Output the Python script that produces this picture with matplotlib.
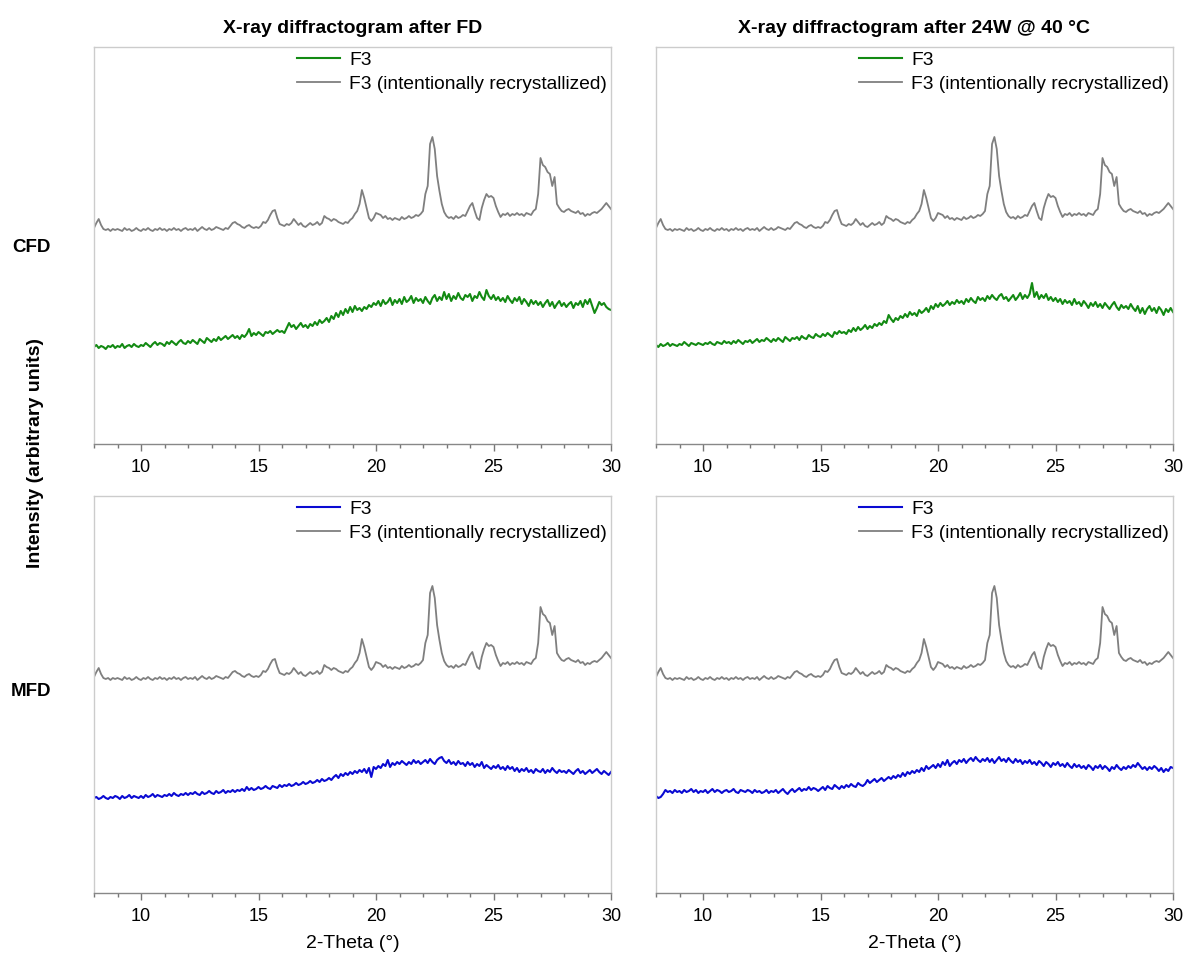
import numpy as np
import matplotlib.pyplot as plt
from matplotlib.ticker import MultipleLocator

plt.rcParams['font.family'] = ['Liberation Sans', 'DejaVu Sans']

# 2-Theta grid (degrees), one reading every 0.1 degree from 8 to 30
two_theta = np.round(np.arange(80, 301) / 10.0, 1)

# Recrystallized reference (same pattern shown in all four panels)
recryst = [
    216, 221, 225, 219, 215, 214, 215, 213, 215, 214,
    215, 214, 213, 216, 214, 215, 213, 214, 216, 214,
    213, 215, 214, 216, 214, 213, 215, 214, 216, 214,
    215, 213, 215, 214, 216, 214, 215, 213, 215, 216,
    214, 215, 214, 216, 213, 215, 217, 215, 214, 216,
    214, 215, 217, 216, 215, 214, 216, 215, 218, 221,
    222, 220, 219, 217, 216, 218, 219, 217, 216, 217,
    216, 218, 222, 221, 224, 229, 233, 234, 226, 220,
    219, 218, 220, 219, 221, 225, 222, 219, 221, 218,
    217, 219, 221, 219, 220, 222, 219, 221, 228, 226,
    225, 223, 225, 224, 222, 221, 220, 222, 221, 224,
    226, 230, 233, 240, 254, 246, 236, 226, 223, 226,
    231, 230, 229, 226, 228, 225, 226, 224, 226, 225,
    224, 227, 225, 226, 228, 226, 227, 229, 228, 230,
    233, 250, 258, 300, 307, 295, 268, 253, 240, 232,
    228, 226, 227, 225, 228, 226, 227, 229, 228, 233,
    238, 241, 233, 226, 224, 236, 244, 250, 247, 248,
    246, 238, 232, 227, 230, 229, 231, 228, 230, 229,
    231, 229, 230, 228, 231, 230, 229, 233, 235, 250,
    286, 279, 277, 272, 270, 258, 267, 240, 236, 233,
    232, 234, 235, 233, 232, 231, 233, 230, 231, 228,
    230, 229, 231, 232, 231, 233, 235, 238, 241, 238,
    235,
]

# CFD, after FD
cfd_fd = [
    97, 99, 96, 98, 97, 95, 98, 97, 99, 96,
    98, 97, 100, 96, 98, 99, 97, 100, 98, 97,
    99, 98, 101, 99, 97, 100, 102, 99, 101, 100,
    98, 102, 100, 103, 101, 99, 102, 104, 101, 100,
    103, 101, 104, 102, 100, 105, 103, 101, 106, 104,
    102, 105, 103, 107, 104, 106, 108, 105, 107, 109,
    106, 108, 105, 109, 107, 110, 115, 108, 111, 109,
    112, 110, 108, 112, 111, 113, 110, 112, 114, 112,
    113, 111, 116, 121, 117, 119, 115, 118, 121, 117,
    119, 116, 120, 118, 122, 119, 124, 121, 123, 126,
    122, 128, 125, 131, 127, 133, 129, 135, 131, 137,
    132, 138, 134, 136, 133, 137, 135, 139, 137, 141,
    139, 143, 138, 144, 140, 142, 146, 139, 144, 141,
    145, 140, 147, 142, 144, 148, 141, 146, 143, 145,
    141, 147, 143, 140, 146, 149, 143, 147, 144, 152,
    145, 150, 143, 148, 145, 151, 146, 144, 149, 147,
    150, 143, 148, 146, 152, 147, 144, 154, 148, 145,
    149, 144, 147, 143, 146, 142, 148, 144, 141, 146,
    143, 147, 140, 145, 142, 138, 144, 140, 143, 139,
    142, 137, 141, 144, 138, 142, 136, 140, 143, 138,
    141, 137, 140, 142, 136, 141, 139, 143, 137, 144,
    140, 145, 138, 131, 136, 142, 139, 141, 137, 135,
    134,
]

# CFD, after 24W @ 40 °C
cfd_24w = [
    99, 97, 100, 98, 99, 101, 98, 100, 99, 98,
    100, 99, 102, 100, 98, 101, 100, 99, 101, 100,
    99, 101, 100, 102, 100, 99, 102, 101, 100, 103,
    101, 102, 100, 103, 101, 104, 102, 100, 103, 102,
    104, 101, 103, 105, 102, 104, 103, 106, 104, 102,
    105, 103, 106, 104, 102, 107, 105, 103, 106, 105,
    107, 104, 108, 106, 105, 109, 107, 106, 110, 108,
    107, 110, 108, 111, 109, 107, 112, 110, 113, 111,
    112, 110, 114, 112, 116, 113, 117, 114, 116, 119,
    115, 118, 116, 120, 118, 121, 119, 123, 121, 129,
    125, 122, 126, 124, 128, 126, 130, 127, 132, 129,
    131, 128, 134, 131, 133, 136, 132, 138, 135, 140,
    137, 141, 138, 140, 143, 139, 142, 140, 144, 141,
    143, 140, 145, 142, 146, 143, 141, 147, 144, 146,
    143, 148, 145, 149, 146, 144, 148, 150, 145, 147,
    143, 146, 149, 144, 147, 151, 145, 149, 146, 150,
    161, 147, 152, 145, 149, 146, 150, 144, 147, 143,
    146, 142, 145, 140, 144, 141, 143, 139, 145, 140,
    142, 138, 143, 140, 136, 141, 138, 142, 137, 140,
    136, 141, 138, 135, 139, 142, 137, 134, 139, 136,
    138, 135, 140, 136, 133, 138, 131, 136, 130, 135,
    138, 133, 136, 131, 137, 134, 129, 135, 132, 136,
    132,
]

# MFD, after FD
mfd_fd = [
    95, 96, 94, 95, 97, 95, 94, 96, 95, 97,
    96, 94, 97, 95, 96, 98, 95, 97, 96, 95,
    97, 95, 98, 96, 97, 99, 96, 98, 97, 96,
    98, 97, 99, 97, 100, 98, 97, 99, 98, 100,
    98, 100, 99, 101, 99, 98, 101, 99, 100, 102,
    100, 99, 102, 100, 101, 103, 100, 102, 101, 103,
    101, 103, 102, 104, 102, 106, 103, 105, 103, 104,
    106, 104, 105, 107, 105, 104, 107, 106, 105, 108,
    106, 108, 107, 109, 107, 108, 110, 108, 109, 111,
    109, 110, 112, 110, 111, 113, 111, 114, 112, 113,
    115, 113, 116, 118, 115, 119, 117, 120, 118, 121,
    119, 122, 120, 123, 121, 124, 120, 125, 116, 126,
    124, 127, 125, 129, 127, 133, 126, 130, 128, 131,
    129, 132, 130, 128, 131, 129, 133, 130, 132, 129,
    131, 133, 130, 134, 131, 129, 133, 135, 136, 132,
    130, 133, 129, 131, 128, 132, 129, 130, 127, 131,
    128, 130, 126, 129, 127, 131, 125, 128, 126, 124,
    127, 125, 128, 124, 126, 123, 127, 124, 126, 122,
    125, 121, 124, 122, 125, 121, 123, 120, 124, 122,
    121, 124, 120, 123, 121, 125, 122, 120, 123, 121,
    122, 120, 123, 121, 119, 122, 124, 120, 122, 119,
    121, 123, 120, 122, 124, 121, 119, 122, 120, 118,
    121,
]

# MFD, after 24W @ 40 °C
mfd_24w = [
    97, 95, 96, 99, 103, 101, 102, 100, 103, 101,
    102, 100, 103, 101, 102, 104, 101, 103, 100, 102,
    101, 103, 100, 102, 104, 101, 103, 102, 100, 102,
    103, 101, 102, 104, 101, 100, 103, 102, 101, 103,
    102, 100, 103, 101, 102, 100, 101, 103, 100, 102,
    101, 103, 100, 102, 104, 101, 99, 102, 104, 101,
    103, 105, 102, 104, 103, 106, 103, 105, 104, 102,
    104, 106, 103, 107, 105, 104, 108, 106, 104, 107,
    105, 108, 106, 109, 107, 106, 110, 108, 107, 109,
    113, 110, 112, 114, 111, 113, 115, 112, 114, 116,
    114, 117, 115, 118, 116, 120, 117, 121, 119, 122,
    120, 123, 121, 125, 122, 127, 124, 126, 128, 125,
    129, 126, 131, 128, 133, 127, 130, 132, 129, 133,
    131, 134, 130, 133, 135, 132, 136, 133, 131, 134,
    132, 135, 131, 134, 130, 133, 136, 132, 134, 131,
    135, 132, 130, 134, 131, 133, 129, 132, 130, 133,
    129, 131, 128, 132, 130, 127, 131, 129, 126, 130,
    128, 131, 127, 129, 126, 130, 127, 125, 129, 126,
    128, 125, 127, 124, 128, 126, 123, 127, 125, 128,
    124, 127, 125, 122, 126, 124, 128, 125, 123, 126,
    124, 127, 125, 128, 126, 130, 127, 124, 126, 123,
    126, 124, 127, 125, 122, 125, 121, 124, 122, 126,
    125,
]

col_titles = ['X-ray diffractogram after FD', 'X-ray diffractogram after 24W @ 40 °C']
row_labels = ['CFD', 'MFD']
row_colors = ['#138a13', '#0a0ad2']
panel_data = [[cfd_fd, cfd_24w], [mfd_fd, mfd_24w]]

fig = plt.figure(figsize=(11.84, 9.54), dpi=100)

W, H = 1184, 954
lefts = [94, 656]
width = 517
tops = [48, 497]
height = 397

for r in range(2):
    for c in range(2):
        ax = fig.add_axes([lefts[c] / W, 1 - (tops[r] + height) / H, width / W, height / H])
        ax.plot(two_theta, panel_data[r][c], color=row_colors[r], lw=1.5, label='F3')
        ax.plot(two_theta, recryst, color='#7f7f7f', lw=1.3,
                label='F3 (intentionally recrystallized)')
        ax.set_xlim(8, 30)
        ax.set_ylim(0, 397)
        ax.set_yticks([])
        ax.xaxis.set_major_locator(MultipleLocator(5))
        ax.xaxis.set_minor_locator(MultipleLocator(1))
        ax.tick_params(axis='x', which='major', length=5, width=1, color='#777777',
                       labelsize=13, pad=5)
        ax.tick_params(axis='x', which='minor', length=3, width=1, color='#777777')
        for side in ['left', 'top', 'right']:
            ax.spines[side].set_color('#cccccc')
            ax.spines[side].set_linewidth(1)
        ax.spines['bottom'].set_color('#888888')
        ax.spines['bottom'].set_linewidth(1)
        ax.legend(loc='upper right', frameon=False, fontsize=13.8,
                  handlelength=2.25, handletextpad=0.5, labelspacing=0.35,
                  borderaxespad=0.2, borderpad=0.0)
        if r == 0:
            ax.set_title(col_titles[c], fontsize=14, fontweight='bold', pad=11)
        if r == 1:
            ax.set_xlabel('2-Theta (°)', fontsize=14, labelpad=7)

fig.text(31 / W, 1 - 247 / H, row_labels[0], fontsize=13.5, fontweight='bold',
         ha='center', va='center')
fig.text(31 / W, 1 - 692 / H, row_labels[1], fontsize=13.5, fontweight='bold',
         ha='center', va='center')
fig.text(36 / W, 1 - 453 / H, 'Intensity (arbitrary units)', fontsize=14,
         fontweight='bold', rotation=90, ha='center', va='center')

fig.savefig('out.png', dpi=100)
